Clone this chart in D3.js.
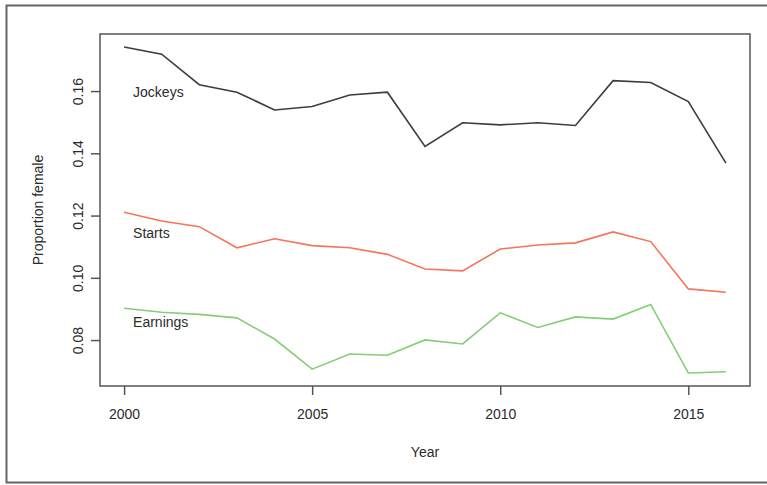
<!DOCTYPE html>
<html>
  <head>
    <script src="https://d3js.org/d3.v7.min.js"></script>
    <title>Proportion female by year</title>
    <style>
      body { margin: 0; background: #fff; }
      text { font-family: "Liberation Sans", Arial, sans-serif; fill: #2b2b2b; }
    </style>
  </head>
  <body>
  <svg width="767" height="485"></svg>

  <script>

      var years = [2000, 2001, 2002, 2003, 2004, 2005, 2006, 2007, 2008, 2009, 2010, 2011, 2012, 2013, 2014, 2015, 2016];

      var jockeys = [0.1743, 0.1720, 0.1622, 0.1598, 0.1541, 0.1552, 0.1589, 0.1598, 0.1424,
                     0.1500, 0.1493, 0.1500, 0.1491, 0.1635, 0.1629, 0.1568, 0.1370];
      var starts = [0.1212, 0.1184, 0.1166, 0.1098, 0.1127, 0.1105, 0.1098, 0.1077, 0.1030,
                    0.1024, 0.1094, 0.1107, 0.1114, 0.1149, 0.1118, 0.0966, 0.0955];
      var earnings = [0.0904, 0.0891, 0.0884, 0.0873, 0.0805, 0.0708, 0.0757, 0.0753, 0.0802,
                      0.0789, 0.0889, 0.0842, 0.0876, 0.0869, 0.0916, 0.0696, 0.0700];

      var seriesNames = ['Jockeys', 'Starts', 'Earnings'];
      var seriesColors = ['#3d3d3d', '#f7735a', '#84cf76'];
      var yTicks = [0.08, 0.10, 0.12, 0.14, 0.16];
      var xTicks = [2000, 2005, 2010, 2015];

      var svg = d3.select('svg');
      var margin = { left: 100, top: 34, right: 750, bottom: 386 };

      // R style: 4% padding around the data range
      var xScale = d3.scaleLinear()
        .domain([2000 - 0.64, 2016 + 0.64])
        .range([margin.left, margin.right]);

      var yScale = d3.scaleLinear()
        .domain([0.0654, 0.1785])
        .range([margin.bottom, margin.top]);

      // outer frame
      svg.append('rect')
        .attr('x', 6.5).attr('y', 5.5)
        .attr('width', 800).attr('height', 477)
        .attr('fill', 'none')
        .attr('stroke', '#666')
        .attr('stroke-width', 2);

      // plot box
      svg.append('rect')
        .attr('x', margin.left).attr('y', margin.top)
        .attr('width', margin.right - margin.left)
        .attr('height', margin.bottom - margin.top)
        .attr('fill', 'none')
        .attr('stroke', '#555')
        .attr('stroke-width', 1.5);

      var xAxis = d3.axisBottom(xScale)
        .tickValues(xTicks)
        .tickFormat(d3.format('d'))
        .tickSize(9)
        .tickPadding(14);

      var yAxis = d3.axisLeft(yScale)
        .tickValues(yTicks)
        .tickFormat(d3.format('.2f'))
        .tickSize(9)
        .tickSizeOuter(0);

      var gx = svg.append('g')
        .attr('transform', `translate(0, ${margin.bottom})`)
        .call(xAxis);
      gx.select('.domain').remove();
      gx.selectAll('line').attr('stroke', '#555').attr('stroke-width', 1.5);
      gx.selectAll('text').style('font-size', '14px').attr('fill', '#2b2b2b');

      var gy = svg.append('g')
        .attr('transform', `translate(${margin.left}, 0)`)
        .call(yAxis);
      gy.select('.domain').remove();
      gy.selectAll('line').attr('stroke', '#555').attr('stroke-width', 1.5);
      gy.selectAll('text')
        .style('font-size', '14px')
        .attr('fill', '#2b2b2b')
        .attr('x', null).attr('dy', null)
        .attr('transform', d => `translate(-22, ${yScale(d)}) rotate(-90)`)
        .attr('y', 0)
        .style('text-anchor', 'middle')
        .attr('dy', '0.35em');
      gy.selectAll('.tick').attr('transform', null);
      gy.selectAll('.tick line')
        .attr('y1', d => yScale(d)).attr('y2', d => yScale(d));

      svg.append('text')
        .attr('x', (margin.left + margin.right) / 2)
        .attr('y', 457)
        .style('text-anchor', 'middle')
        .style('font-size', '14px')
        .text('Year');

      svg.append('text')
        .attr('transform', `translate(43, ${(margin.top + margin.bottom) / 2}) rotate(-90)`)
        .style('text-anchor', 'middle')
        .style('font-size', '14px')
        .text('Proportion female');

      var line = d3.line()
        .x((d, i) => xScale(years[i]))
        .y(d => yScale(d));

      var seriesData = [jockeys, starts, earnings];

      svg.append('g')
        .selectAll('path')
        .data(seriesData)
        .enter().append('path')
        .attr('d', line)
        .attr('fill', 'none')
        .attr('stroke', (d, i) => seriesColors[i])
        .attr('stroke-width', 1.6);

      // series labels sit under the first point of each line
      svg.append('g')
        .selectAll('text')
        .data(seriesData)
        .enter().append('text')
        .attr('x', xScale(2000) + 9)
        .attr('y', (d, i) => yScale(d[0]) + [50, 26, 19][i])
        .style('font-size', '14px')
        .text((d, i) => seriesNames[i]);

      </script>
  </body>
</html>
